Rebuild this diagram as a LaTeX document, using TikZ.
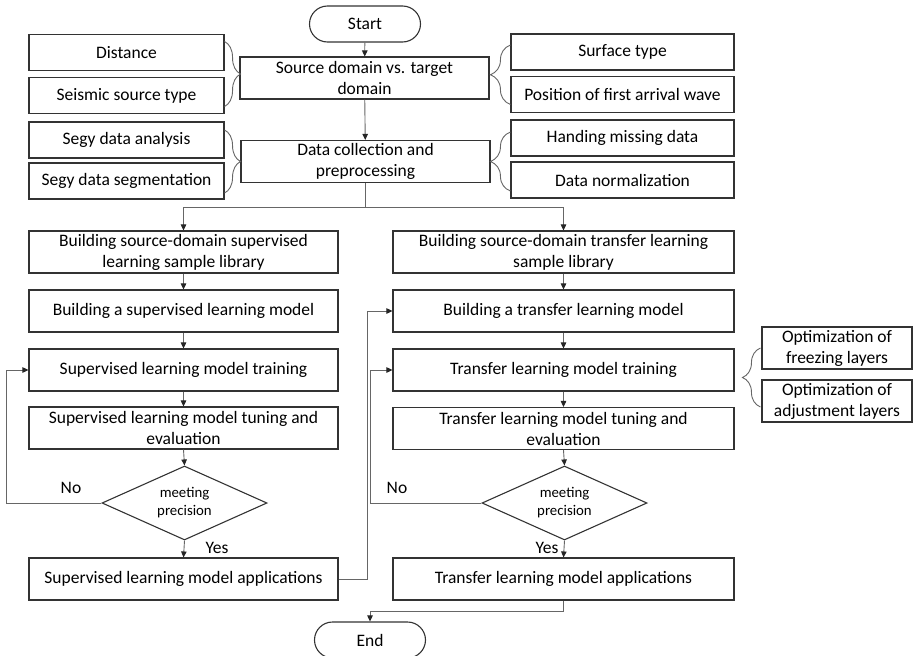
\documentclass[tikz,border=0pt]{standalone}
\usepackage{fontspec}
\setmainfont{Carlito}
\usetikzlibrary{arrows.meta, positioning, shapes.geometric, calc, decorations.pathreplacing}

\begin{document}
\begin{tikzpicture}[
    x=1pt, y=-1pt,
    box/.style={draw=black!80, line width=1.1pt, minimum height=42pt, inner sep=0pt, align=center, font=\fontsize{17.5}{21}\selectfont},
    lcol/.style={box, minimum width=309pt},
    rcol/.style={box, minimum width=341pt},
    side/.style={box, minimum height=36pt},
    term/.style={box, rounded corners=18pt, minimum width=111pt, minimum height=36pt},
    dec/.style={diamond, draw=black!80, line width=1.1pt, aspect=2.2, minimum width=165pt, minimum height=74pt, inner sep=0pt, align=center, font=\fontsize{14.8}{18}\selectfont},
    lbl/.style={font=\fontsize{17.5}{21}\selectfont},
    arr/.style={draw=black!60, line width=0.9pt, -{Triangle[length=6pt,width=5.5pt,color=black!85]}},
    brc/.style={draw=black!60, line width=0.9pt, decorate, decoration={brace, amplitude=#1}}
  ]
    \useasboundingbox (0,0) rectangle (914,656);

    % top part
    \node[term] (start) at (365,24) {Start};
    \node[box, minimum width=249pt] (src) at (364.5,78) {Source domain vs. target\\domain};
    \node[box, minimum width=249pt] (dc) at (365.5,161.5) {Data collection and\\preprocessing};

    \foreach \nm/\y/\txt in {dist/52.5/Distance, seis/95.5/Seismic source type,
                             sega/140/Segy data analysis, segs/181/Segy data segmentation} {
      \node[side, minimum width=195pt] (\nm) at (126.5,\y) {\txt};
    }
    \foreach \nm/\y/\txt in {surf/52/Surface type, pos/94.5/Position of first arrival wave,
                             miss/138/Handing missing data, norm/180/Data normalization} {
      \node[side, minimum width=223pt] (\nm) at (622.5,\y) {\txt};
    }

    % two columns
    \node[lcol] (s1) at (183.5,252) {Building source-domain supervised\\learning sample library};
    \node[lcol] (s2) at (183.5,311) {Building a supervised learning model};
    \node[lcol] (s3) at (183.5,370) {Supervised learning model training};
    \node[lcol] (s4) at (183.5,428) {Supervised learning model tuning and\\evaluation};
    \node[dec]  (d1) at (184.5,503) {meeting\\precision};
    \node[lcol] (s6) at (183.5,579) {Supervised learning model applications};

    \node[rcol] (t1) at (563.5,252) {Building source-domain transfer learning\\sample library};
    \node[rcol] (t2) at (563.5,311) {Building a transfer learning model};
    \node[rcol] (t3) at (563.5,370) {Transfer learning model training};
    \node[rcol] (t4) at (563.5,428.5) {Transfer learning model tuning and\\evaluation};
    \node[dec]  (d2) at (564.5,503) {meeting\\precision};
    \node[rcol] (t6) at (563.5,579) {Transfer learning model applications};

    \node[box, minimum width=150pt] (frz) at (837,348) {Optimization of\\freezing layers};
    \node[box, minimum width=150pt] (adj) at (837,401) {Optimization of\\adjustment layers};

    \node[term] (end) at (370,640) {End};

    \node[lbl] (no1) at (71,488) {No};
    \node[lbl] (no2) at (397,488) {No};
    \node[lbl] (yes1) at (217,548) {Yes};
    \node[lbl] (yes2) at (547,548) {Yes};

    % braces
    \draw[brc=16pt] ($(dist.east)+(0,-11)$) -- ($(seis.east)+(0,11)$);
    \draw[brc=16pt] ($(sega.east)+(0,-10)$) -- ($(segs.east)+(0,12)$);
    \draw[brc=20pt] ($(pos.west)+(0,10)$) -- ($(surf.west)+(0,-7)$);
    \draw[brc=20pt] ($(norm.west)+(0,11)$) -- ($(miss.west)+(0,-6)$);
    \draw[brc=18pt] ($(adj.west)+(-1,6)$) -- ($(frz.west)+(-1,0)$);

    % connectors
    \coordinate (split) at (365,207);
    \draw[arr] (start) -- (src);
    \draw[arr] (src) -- (dc);
    \draw[arr] (dc.south) |- (s1.north |- split) -- (s1.north);
    \draw[arr] (dc.south) |- (t1.north |- split) -- (t1.north);
    \draw[arr] (s1) -- (s2);
    \draw[arr] (s2) -- (s3);
    \draw[arr] (s3) -- (s4);
    \draw[arr] (s4.south) -- (d1.north);
    \draw[arr] (d1.south) -- (s6.north);
    \draw[arr] (d1.west) -- ++(-95,0) |- (s3.west);
    \draw[arr] (s6.east) -- ++(29,0) |- (t2.west);
    \draw[arr] (t1) -- (t2);
    \draw[arr] (t2) -- (t3);
    \draw[arr] (t3) -- (t4);
    \draw[arr] (t4.south) -- (d2.north);
    \draw[arr] (d2.south) -- (t6.north);
    \draw[arr] (d2.west) -- ++(-111,0) |- (t3.west);
    \draw[arr] (t6.south) -- ++(0,11) -| (end.north);
  \end{tikzpicture}
\end{document}
